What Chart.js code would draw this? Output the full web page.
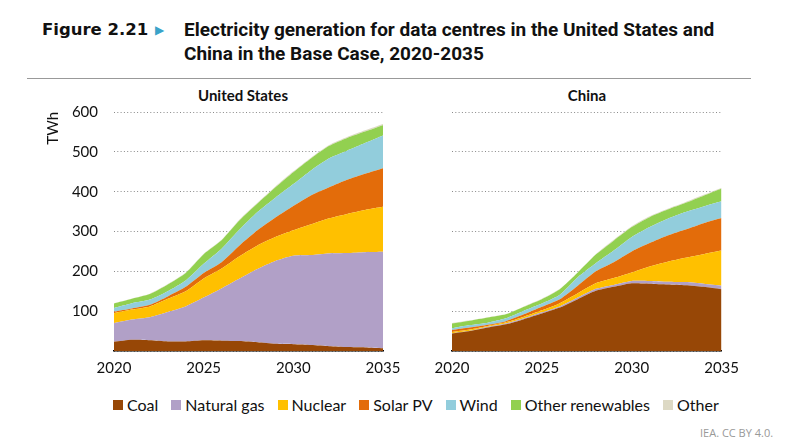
<!DOCTYPE html>
<html>
<head>
<meta charset="utf-8">
<script src="https://cdn.jsdelivr.net/npm/chart.js@4"></script>
<style>
  body { margin: 0; background: #fff; width: 799px; height: 444px; position: relative; overflow: hidden; font-family: Lato, "Open Sans", sans-serif; }
  .fig { position: absolute; left: 42px; top: 18px; color: #111; line-height: 24px; }
  .fig .num { position: absolute; left: 0; top: 0; white-space: nowrap; font-family: "DejaVu Sans", sans-serif; font-weight: 700; font-size: 16.5px; }
  .fig .tri { position: absolute; left: 113px; top: 0; color: #3aa3c9; font-size: 12px; font-family: "DejaVu Sans", sans-serif; }
  .fig .txt { position: absolute; left: 142px; top: 0; width: 620px; font-family: Roboto, sans-serif; font-weight: 700; font-size: 19px; white-space: nowrap; }
  .rule { position: absolute; left: 27px; top: 78px; width: 724px; height: 1px; background: #999; }
  .sub { position: absolute; top: 86px; font-weight: 700; font-size: 15px; color: #111; text-align: center; }
  .box { position: absolute; top: 84px; height: 300px; }
  .legend { position: absolute; left: 113px; top: 395px; display: flex; gap: 13px; font-size: 16px; color: #111; }
  .legend span { display: flex; align-items: center; }
  .legend i { display: inline-block; width: 10px; height: 10px; margin-right: 4px; }
  .src { position: absolute; left: 700px; top: 425px; font-size: 11px; color: #999; font-family: "Open Sans", sans-serif; }
</style>
</head>
<body>
<div class="fig">
  <span class="num">Figure 2.21</span>
  <span class="tri">&#9654;</span>
  <div class="txt">Electricity generation for data centres in the United States and<br>China in the Base Case, 2020-2035</div>
</div>
<div class="rule"></div>
<div class="sub" style="left:114px;width:258px;">United States</div>
<div class="sub" style="left:452px;width:270px;">China</div>
<div class="box" style="left:40px;width:370px;"><canvas id="us"></canvas></div>
<div class="box" style="left:400px;width:347px;"><canvas id="cn"></canvas></div>
<div class="legend" id="legend"></div>
<div class="src">IEA. CC BY 4.0.</div>
<script>
const years = [2020, 2021, 2022, 2023, 2024, 2025, 2026, 2027, 2028, 2029, 2030, 2031, 2032, 2033, 2034, 2035];
const sources = ['Coal', 'Natural gas', 'Nuclear', 'Solar PV', 'Wind', 'Other renewables', 'Other'];
const colors = ['#974706', '#b1a0c7', '#ffc000', '#e36c0a', '#92cddc', '#92d050', '#ddd9c4'];
const yTicks = [100, 200, 300, 400, 500, 600];

// United States, TWh
const usCoal = [23, 28, 27, 24, 24, 27, 26, 25, 22, 18, 17, 15, 12, 10, 9, 7];
const usGas = [47, 51, 58, 74, 88, 107, 131, 157, 184, 208, 222, 226, 233, 236, 239, 242];
const usNuclear = [25, 25, 27, 33, 38, 48, 50, 56, 59, 60, 64, 77, 88, 98, 106, 113];
const usSolar = [4, 3, 4, 6, 11, 14, 16, 27, 38, 49, 61, 73, 78, 86, 91, 97];
const usWind = [9, 13, 13, 13, 16, 23, 34, 40, 46, 50, 55, 63, 73, 73, 77, 82];
const usOtherRen = [11, 11, 14, 17, 19, 24, 21, 23, 21, 26, 30, 30, 31, 32, 29, 26];
const usOther = [1, 1, 1, 1, 1, 1, 1, 2, 2, 2, 2, 2, 2, 2, 3, 3];

// China, TWh
const cnCoal = [44, 50, 59, 67, 80, 94, 109, 130, 151, 161, 170, 169, 167, 165, 161, 155];
const cnGas = [1, 1, 2, 2, 2, 3, 3, 4, 5, 5, 6, 7, 7, 8, 8, 9];
const cnNuclear = [3, 3, 2, 3, 4, 5, 8, 11, 14, 17, 21, 36, 50, 61, 74, 88];
const cnSolar = [5, 5, 3, 3, 6, 9, 10, 19, 30, 40, 53, 59, 66, 71, 78, 82];
const cnWind = [4, 6, 5, 7, 9, 8, 11, 21, 20, 29, 36, 40, 42, 44, 42, 42];
const cnOtherRen = [12, 11, 13, 10, 10, 11, 14, 12, 22, 25, 25, 25, 23, 23, 27, 32];
const cnOther = [1, 1, 1, 1, 1, 1, 1, 1, 1, 2, 2, 2, 2, 2, 2, 2];

const usSeries = [usCoal, usGas, usNuclear, usSolar, usWind, usOtherRen, usOther];
const cnSeries = [cnCoal, cnGas, cnNuclear, cnSolar, cnWind, cnOtherRen, cnOther];

const tickFont = { family: 'Lato, "Open Sans", sans-serif', size: 15 };

function makeChart(id, series, showY) {
  const datasets = series.map((vals, i) => ({
    label: sources[i],
    data: vals,
    backgroundColor: colors[i],
    borderColor: colors[i],
    borderWidth: 0,
    pointRadius: 0,
    fill: i === 0 ? 'origin' : '-1',
    tension: 0.2
  }));
  return new Chart(document.getElementById(id), {
    type: 'line',
    data: { labels: years.map(String), datasets },
    options: {
      responsive: true,
      maintainAspectRatio: false,
      animation: false,
      layout: { padding: { top: 28, right: showY ? 27 : 25, left: 0, bottom: 0 } },
      plugins: { legend: { display: false }, tooltip: { enabled: false } },
      scales: {
        x: {
          grid: { display: false, drawTicks: false },
          border: { display: true, color: '#000', width: 1.5 },
          ticks: {
            autoSkip: false, maxRotation: 0, padding: 8, color: '#111', font: tickFont,
            callback: (v, i) => (years[i] % 5 === 0 ? String(years[i]) : '')
          },
          afterFit: (axis) => { axis.height = 33; }
        },
        y: {
          stacked: true,
          min: 0,
          max: 600,
          afterBuildTicks: (axis) => { axis.ticks = [0].concat(yTicks).map(v => ({ value: v })); },
          grid: { color: '#8a8a8a', lineWidth: 1, drawTicks: false },
          border: { display: false, dash: [1, 2.3] },
          ticks: {
            display: showY, padding: 16, color: '#111', font: tickFont,
            callback: (v) => (v === 0 ? '' : v)
          },
          title: {
            display: showY, text: 'TWh', align: 'end', color: '#111',
            font: tickFont, padding: { top: 4, bottom: 4 }
          },
          afterFit: (axis) => { axis.width = showY ? 74 : 52; }
        }
      }
    }
  });
}

makeChart('us', usSeries, true);
makeChart('cn', cnSeries, false);

const legend = document.getElementById('legend');
sources.forEach((s, i) => {
  const item = document.createElement('span');
  item.innerHTML = '<i style="background:' + colors[i] + '"></i>' + s;
  legend.appendChild(item);
});
</script>
</body>
</html>
